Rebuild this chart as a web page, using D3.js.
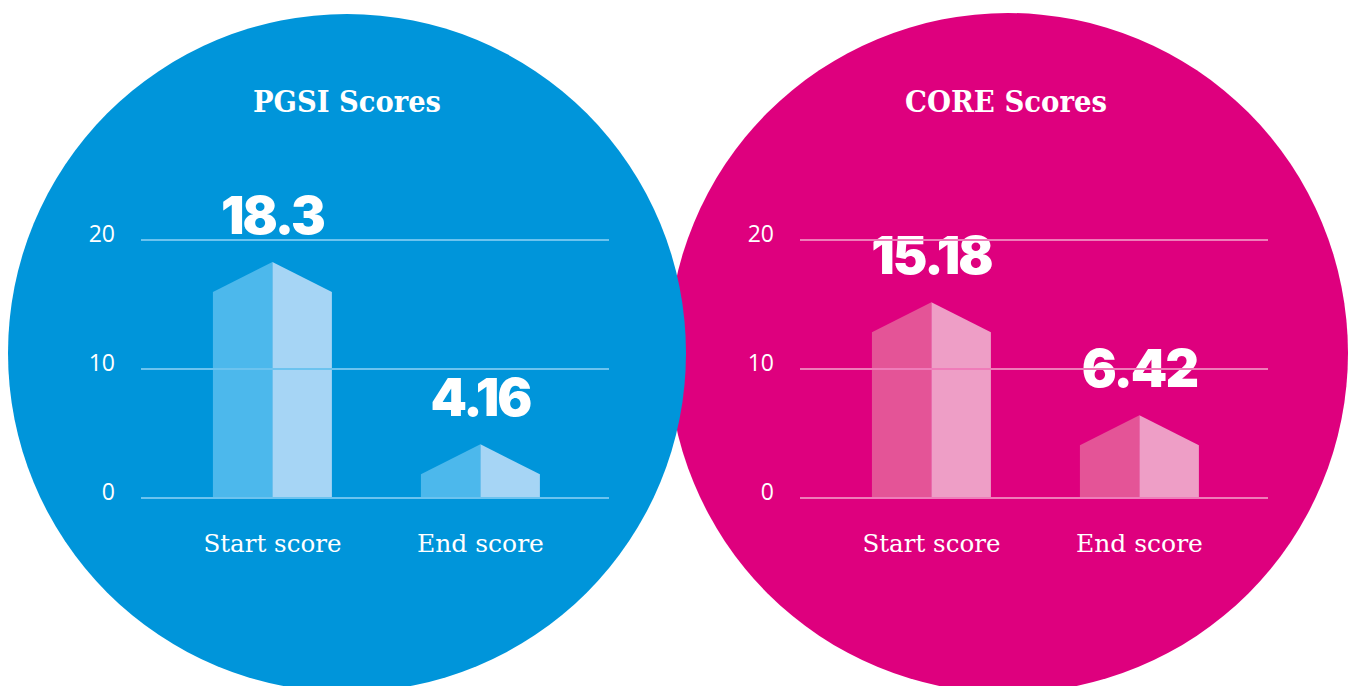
<!DOCTYPE html>
<html>
<head>
<meta charset="utf-8">
<script src="https://cdn.jsdelivr.net/npm/d3@7"></script>
<style>
  html, body { margin: 0; padding: 0; background: #ffffff; }
  svg { display: block; }
</style>
</head>
<body>
<svg id="chart" width="1354" height="686"></svg>
<script>
// ---- data ----
const chartTitles = ["PGSI Scores", "CORE Scores"];
const categories = ["Start score", "End score"];
const pgsiValues = [18.3, 4.16];
const coreValues = [15.18, 6.42];
const yTicks = [0, 10, 20];

// ---- styles ----
const panels = [
  { title: chartTitles[0], values: pgsiValues, dx: 0, cx: 347, r: 339,
    bg: "#0095da", left: "#4cb8ec", right: "#a6d5f5", grid: "#6cc3ef" },
  { title: chartTitles[1], values: coreValues, dx: 659, cx: 1008, r: 340,
    bg: "#de007e", left: "#e45497", right: "#ee9ec6", grid: "#ef7cb9" }
];
const cy = 353;
const roofDrop = 30;

const svg = d3.select("#chart");

// circles: pink underneath, blue on top
svg.append("circle").attr("cx", panels[1].cx).attr("cy", cy).attr("r", panels[1].r).attr("fill", panels[1].bg);
svg.append("circle").attr("cx", panels[0].cx).attr("cy", cy).attr("r", panels[0].r).attr("fill", panels[0].bg);

const y = d3.scaleLinear().domain([0, 20]).range([498, 240]);
const x = d3.scaleBand().domain(categories).range([141, 609])
  .paddingInner(0.428).paddingOuter(0.339).align(0.51);

panels.forEach(p => {
  const g = svg.append("g").attr("transform", `translate(${p.dx},0)`);

  // title
  g.append("text")
    .attr("x", 347).attr("y", 112)
    .attr("text-anchor", "middle")
    .attr("fill", "#ffffff")
    .attr("font-family", "'DejaVu Serif', serif")
    .attr("font-weight", "bold")
    .attr("font-size", 29)
    .attr("textLength", p.title === "PGSI Scores" ? 188 : 202)
    .attr("lengthAdjust", "spacingAndGlyphs")
    .text(p.title);

  // bars (house-shaped)
  const data = categories.map((c, i) => ({ c, v: p.values[i] }));
  const bars = g.append("g").selectAll("g").data(data).join("g");
  bars.append("path")
    .attr("fill", p.left)
    .attr("d", d => {
      const x0 = x(d.c), xm = x(d.c) + x.bandwidth() / 2, yp = y(d.v);
      return `M${x0},${y(0)}L${x0},${yp + roofDrop}L${xm},${yp}L${xm},${y(0)}Z`;
    });
  bars.append("path")
    .attr("fill", p.right)
    .attr("d", d => {
      const x1 = x(d.c) + x.bandwidth(), xm = x(d.c) + x.bandwidth() / 2, yp = y(d.v);
      return `M${xm},${y(0)}L${xm},${yp}L${x1},${yp + roofDrop}L${x1},${y(0)}Z`;
    });

  // gridlines
  g.append("g").selectAll("line").data(yTicks).join("line")
    .attr("x1", 141).attr("x2", 609)
    .attr("y1", d => y(d)).attr("y2", d => y(d))
    .attr("stroke", p.grid).attr("stroke-width", 2);

  // y axis labels
  const ax = g.append("g").attr("transform", "translate(141,1)")
    .call(d3.axisLeft(y).tickValues(yTicks).tickSize(0).tickPadding(26));
  ax.select(".domain").remove();
  ax.selectAll("text")
    .attr("dy", "0em")
    .attr("fill", "#ffffff")
    .attr("font-family", "'Open Sans', sans-serif")
    .attr("font-weight", 400)
    .attr("font-size", 23);

  // value labels
  bars.append("text")
    .attr("x", d => x(d.c) + x.bandwidth() / 2)
    .attr("y", d => y(d.v) - 28)
    .attr("text-anchor", "middle")
    .attr("fill", "#ffffff")
    .attr("font-family", "Inter, Lato, sans-serif")
    .attr("font-weight", 900)
    .attr("font-size", 52)
    .attr("letter-spacing", -2)
    .text(d => String(d.v));

  // category labels
  g.append("g").selectAll("text").data(categories).join("text")
    .attr("x", d => x(d) + x.bandwidth() / 2)
    .attr("y", 552)
    .attr("text-anchor", "middle")
    .attr("fill", "#ffffff")
    .attr("font-family", "'DejaVu Serif', serif")
    .attr("font-size", 25)
    .attr("textLength", d => d === "Start score" ? 138 : 127)
    .attr("lengthAdjust", "spacingAndGlyphs")
    .text(d => d);
});
</script>
</body>
</html>
